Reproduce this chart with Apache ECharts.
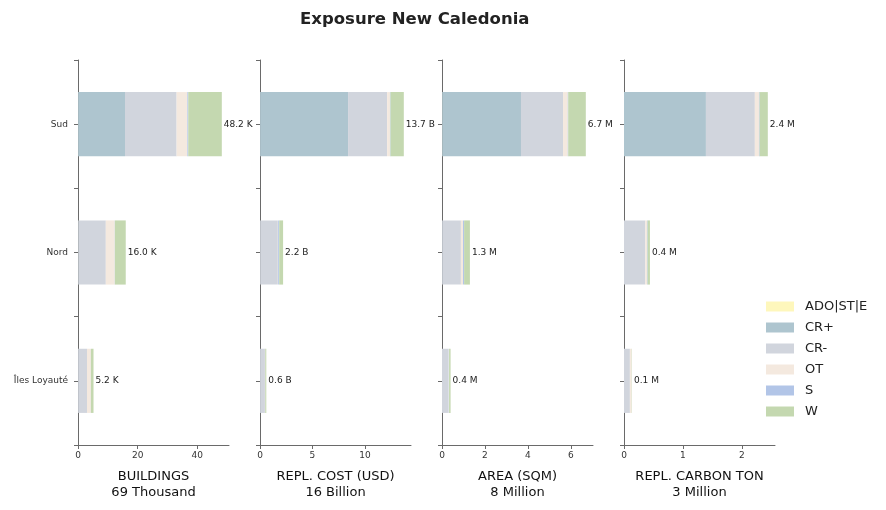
<!DOCTYPE html>
<html>
<head>
<meta charset="utf-8">
<script src="https://cdn.jsdelivr.net/npm/echarts@6/dist/echarts.min.js"></script>
<style>
    html, body { margin: 0; padding: 0; background: #fff; }
    #chart { width: 886px; height: 510px; }
</style>
</head>
<body>
<div id="chart"></div>
<script>
(function () {
    "use strict";

    var categories = ['Sud', 'Nord', 'Îles Loyauté'];
    var seriesNames = ['ADO|ST|E', 'CR+', 'CR-', 'OT', 'S', 'W'];
    var colors = ['#fef7bc', '#aec5cf', '#d1d5dd', '#f4e9df', '#b2c5e7', '#c4d8b0'];

    // one row per series (same order as seriesNames), values per category
    var buildings = [        // thousand
        [0.05, 0.02, 0.01],
        [15.7, 0.1, 0.05],
        [17.3, 9.2, 2.95],
        [3.6, 3.0, 1.3],
        [0.3, 0.05, 0.02],
        [11.25, 3.63, 0.87]
    ];
    var replCost = [         // billion USD
        [0.01, 0.0, 0.0],
        [8.38, 0.02, 0.01],
        [3.72, 1.68, 0.46],
        [0.27, 0.03, 0.02],
        [0.05, 0.1, 0.01],
        [1.27, 0.37, 0.1]
    ];
    var area = [             // million sqm
        [0.01, 0.0, 0.0],
        [3.67, 0.01, 0.0],
        [1.96, 0.87, 0.28],
        [0.22, 0.1, 0.03],
        [0.02, 0.05, 0.02],
        [0.82, 0.27, 0.07]
    ];
    var carbon = [           // million ton
        [0.0, 0.0, 0.0],
        [1.39, 0.0, 0.0],
        [0.83, 0.36, 0.10],
        [0.07, 0.03, 0.03],
        [0.01, 0.01, 0.0],
        [0.14, 0.04, 0.005]
    ];

    var panelData = [buildings, replCost, area, carbon];
    var panelUnits = [' K', ' B', ' M', ' M'];
    var panelNames = ['BUILDINGS\n69 Thousand', 'REPL. COST (USD)\n16 Billion', 'AREA (SQM)\n8 Million', 'REPL. CARBON TON\n3 Million'];
    var panelIntervals = [20, 5, 2, 1];

    var font = 'DejaVu Sans';
    var axisColor = '#6a6a6a';

    var grids = [], xAxes = [], yAxes = [], series = [];

    panelData.forEach(function (data, p) {
        var totals = categories.map(function (c, i) {
            var s = 0;
            data.forEach(function (row) { s += row[i]; });
            return s;
        });
        var maxTotal = Math.max.apply(null, totals);

        grids.push({ left: 78 + 182 * p, width: 151, top: 60, height: 385 });

        xAxes.push({
            type: 'value',
            gridIndex: p,
            min: 0,
            max: maxTotal * 1.05,
            interval: panelIntervals[p],
            splitLine: { show: false },
            axisLine: { show: true, lineStyle: { color: axisColor } },
            axisTick: { show: true, length: 4, lineStyle: { color: axisColor } },
            axisLabel: {
                color: '#333', fontSize: 9, fontFamily: font, margin: 6,
                showMaxLabel: false
            },
            name: panelNames[p],
            nameLocation: 'middle',
            nameGap: 24,
            nameTextStyle: { color: '#111', fontSize: 13, fontFamily: font, lineHeight: 16, verticalAlign: 'top' }
        });

        // main category axis (ticks at centers, labels only on first panel)
        yAxes.push({
            type: 'category',
            gridIndex: p,
            position: 'left',
            data: categories,
            inverse: true,
            axisLine: { show: true, lineStyle: { color: axisColor } },
            axisTick: { show: true, alignWithLabel: true, length: 4, lineStyle: { color: axisColor } },
            axisLabel: { show: p === 0, color: '#333', fontSize: 9, fontFamily: font, margin: 10 }
        });
        // second axis only for the boundary ticks
        yAxes.push({
            type: 'category',
            gridIndex: p,
            position: 'left',
            data: categories,
            inverse: true,
            axisLine: { show: false },
            axisTick: { show: true, alignWithLabel: false, length: 4, lineStyle: { color: axisColor } },
            axisLabel: { show: false }
        });

        data.forEach(function (row, k) {
            var last = k === data.length - 1;
            series.push({
                name: seriesNames[k],
                type: 'bar',
                stack: 'panel' + p,
                xAxisIndex: p,
                yAxisIndex: p * 2,
                barWidth: '50%',
                itemStyle: { color: colors[k] },
                data: row,
                label: last ? {
                    show: true,
                    position: 'right',
                    distance: 2,
                    color: '#222',
                    fontSize: 9,
                    fontFamily: font,
                    formatter: function (params) {
                        return totals[params.dataIndex].toFixed(1) + panelUnits[p];
                    }
                } : { show: false }
            });
        });
    });

    var chart = echarts.init(document.getElementById('chart'));
    chart.setOption({
        animation: false,
        backgroundColor: '#fff',
        title: {
            text: 'Exposure New Caledonia',
            left: 295,
            top: 6,
            textStyle: { fontFamily: font, fontSize: 16.5, fontWeight: 'bold', color: '#222' }
        },
        legend: {
            data: seriesNames,
            orient: 'vertical',
            left: 761,
            top: 295,
            icon: 'rect',
            itemWidth: 28,
            itemHeight: 10,
            itemGap: 8,
            textStyle: { fontFamily: font, fontSize: 13, color: '#222', padding: [0, 0, 0, 6] }
        },
        grid: grids,
        xAxis: xAxes,
        yAxis: yAxes,
        series: series
    });
}());
</script>
</body>
</html>
